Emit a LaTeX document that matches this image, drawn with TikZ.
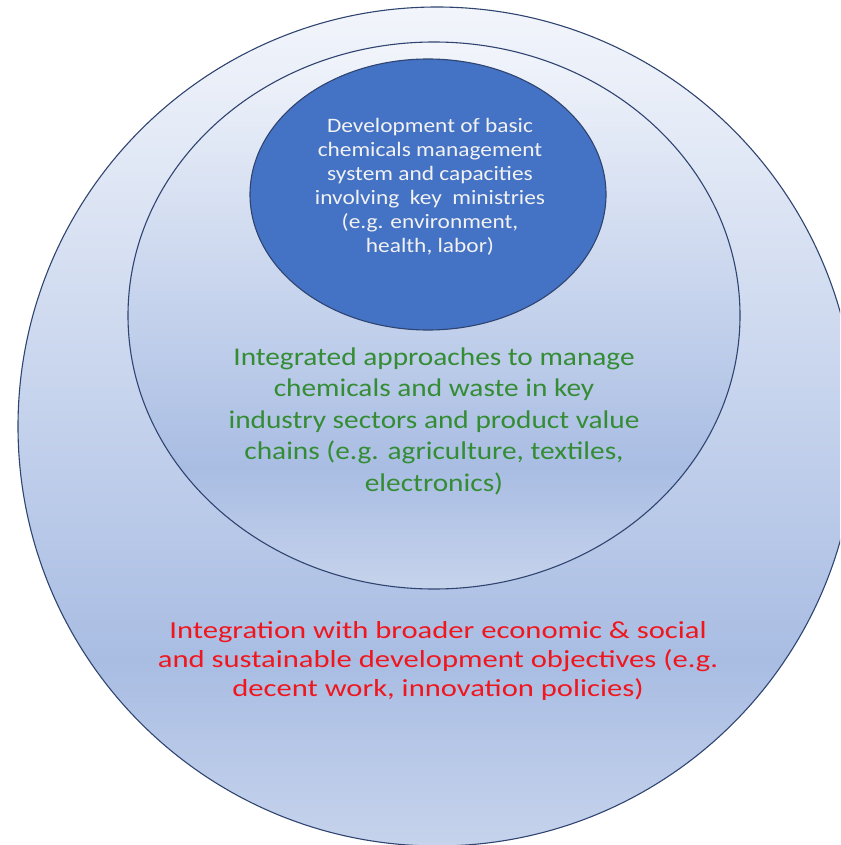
\documentclass[tikz,border=0pt]{standalone}
\usepackage{fontspec}
\setmainfont{Carlito}
\newfontfamily\corefont[FakeStretch=1.14]{Carlito}
\newfontfamily\midfont[FakeStretch=1.15]{Carlito}
\newfontfamily\outfont[FakeStretch=1.25]{Carlito}
\usepackage{tikz}
\usetikzlibrary{positioning,shapes.geometric}
\definecolor{ringtop}{RGB}{242,245,251}
\definecolor{ringdark}{RGB}{169,189,227}
\definecolor{ringbot}{RGB}{198,211,236}
\definecolor{coreblue}{RGB}{68,114,196}
\definecolor{rimline}{RGB}{47,68,112}
\definecolor{mygreen}{RGB}{52,140,52}
\definecolor{myred}{RGB}{240,22,30}
\pgfdeclareverticalshading{ringshade}{100bp}{%
  color(0bp)=(ringbot); color(25bp)=(ringbot); color(36bp)=(ringdark);
  color(75bp)=(ringtop); color(100bp)=(ringtop)}

\begin{document}
\begin{tikzpicture}[x=1pt,y=-1pt,
    every node/.style={ellipse,inner sep=0pt},
    ring/.style={draw=rimline,line width=1.1pt,shading=ringshade},
    core/.style={draw=rimline,line width=1.1pt,fill=coreblue},
    txt/.style={rectangle,align=center}
  ]
  \clip (0,0) rectangle (840,845);

  % the rings
  \node[ring,minimum width=838pt,minimum height=839pt] (outer) at (437,426.5) {};
  \node[ring,minimum width=612pt,minimum height=547pt] (middle) at (434,315.5) {};
  \node[core,minimum width=356pt,minimum height=271pt] (inner) at (428,194.5) {};

  % the texts
  \node[txt,text=white!95!black,font=\corefont\fontsize{20.5}{24}\selectfont] (coretext) at (430,187)
    {Development of basic\\chemicals management\\system and capacities\\involving\ \ key\ \ ministries\\(e.g. environment,\\health, labor)};
  \node[txt,text=mygreen,font=\midfont\fontsize{25.5}{31.5}\selectfont] (midtext) at (434,421)
    {Integrated approaches to manage\\chemicals and waste in key\\industry sectors and product value\\chains (e.g. agriculture, textiles,\\electronics)};
  \node[txt,text=myred,font=\outfont\fontsize{24.5}{29}\selectfont] (outtext) at (438,661)
    {Integration with broader economic \& social\\and sustainable development objectives (e.g.\\decent work, innovation policies)};
\end{tikzpicture}
\end{document}
